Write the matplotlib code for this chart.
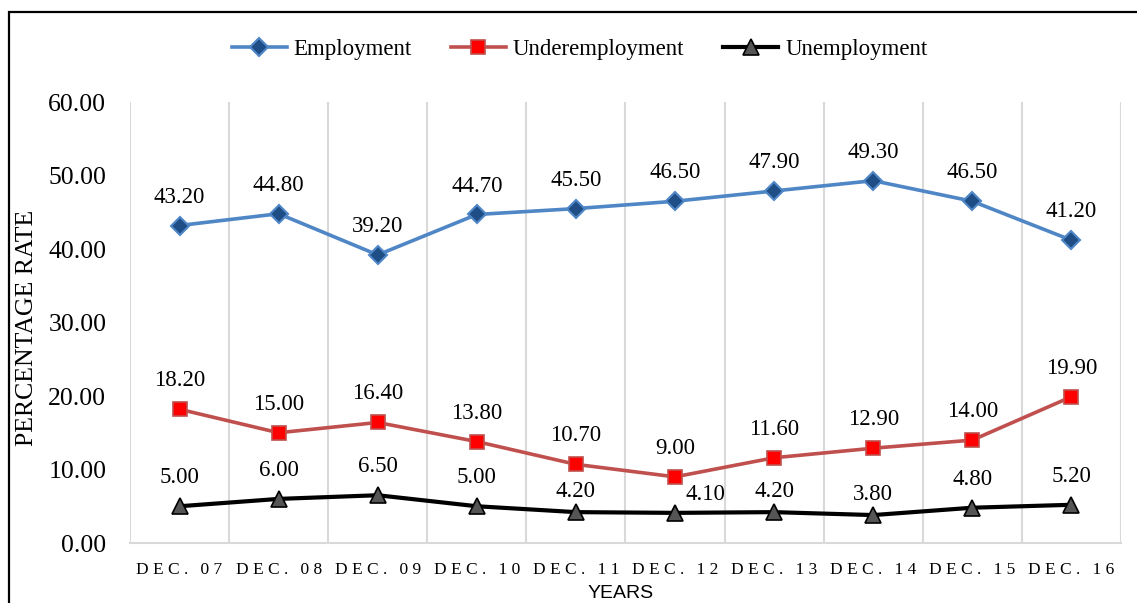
import matplotlib
matplotlib.use("Agg")
import matplotlib.pyplot as plt
from matplotlib.patches import Rectangle

# rates per December survey
years = ["DEC. 07", "DEC. 08", "DEC. 09", "DEC. 10", "DEC. 11",
         "DEC. 12", "DEC. 13", "DEC. 14", "DEC. 15", "DEC. 16"]
employment = [43.2, 44.8, 39.2, 44.7, 45.5, 46.5, 47.9, 49.3, 46.5, 41.2]
underemployment = [18.2, 15.0, 16.4, 13.8, 10.7, 9.0, 11.6, 12.9, 14.0, 19.9]
unemployment = [5.0, 6.0, 6.5, 5.0, 4.2, 4.1, 4.2, 3.8, 4.8, 5.2]
y_ticks = [0, 10, 20, 30, 40, 50, 60]

serif = "Liberation Serif"

fig = plt.figure(figsize=(11.37, 6.03), dpi=100)
ax = fig.add_axes([0.1143, 0.0995, 0.8716, 0.7313])

x = list(range(len(years)))

series = [
    ("Employment", employment, dict(color="#4F86C6", marker="D", ms=9, lw=2.6,
                                    mfc="#1F4E86", mec="#4F86C6", mew=1.5)),
    ("Underemployment", underemployment, dict(color="#C0504D", marker="s", ms=10, lw=2.6,
                                              mfc="#FF0000", mec="#C0504D", mew=1.2)),
    ("Unemployment", unemployment, dict(color="black", marker="^", ms=11, lw=3.0,
                                        mfc="#555555", mec="black", mew=1.2)),
]

# label offsets (points) where the default "above" spot is crowded
label_shift = {("Unemployment", 4): (0, 15), ("Unemployment", 5): (22, 13),
               ("Unemployment", 6): (0, 15), ("Unemployment", 7): (0, 15)}

for name, vals, style in series:
    ax.plot(x, vals, label=name, zorder=3, **style)
    for i, v in enumerate(vals):
        dx, dy = label_shift.get((name, i), (0, 20.5))
        ax.annotate(f"{v:.2f}", (i, v), xytext=(dx, dy), textcoords="offset points",
                    ha="center", va="center", fontsize=16.5, family=serif)

ax.set_xlim(-0.5, len(years) - 0.5)
ax.set_ylim(0, 60)
ax.set_yticks(y_ticks)
ax.set_yticklabels([f"{t:.2f}" for t in y_ticks], family=serif, fontsize=18.5)

ax.set_xticks(x)
ax.set_xticklabels([" ".join(y.replace(" ", "\u2009")) for y in years],
                   family=serif, fontsize=12.5)
ax.set_xticks([i - 0.5 for i in range(len(years) + 1)], minor=True)
ax.tick_params(axis="both", which="both", length=0)
ax.tick_params(axis="y", pad=17)
ax.tick_params(axis="x", pad=14)
ax.grid(True, which="minor", axis="x", color="#D9D9D9", lw=1.5)
ax.grid(False, which="major")

for side in ["top", "right", "left"]:
    ax.spines[side].set_visible(False)
ax.spines["bottom"].set_color("#D9D9D9")
ax.spines["bottom"].set_linewidth(1.5)

fig.text(27 / 1137, 1 - 328 / 603, "PERCENTAGE RATE", rotation=90,
         ha="center", va="center", family=serif, fontsize=18.5)
fig.text(621 / 1137, 1 - 594 / 603, "YEARS", ha="center", va="center",
         family="Liberation Sans", fontsize=14)

fig.legend(loc="center", bbox_to_anchor=(0.5097, 1 - 49 / 603), ncol=3,
           frameon=False, prop={"family": serif, "size": 16.5},
           handlelength=2.4, handletextpad=0.3, columnspacing=1.7)

# outer chart frame (only top and left edges fall inside the image)
fig.add_artist(Rectangle((9 / 1137, -0.1), 1.2, 1.1 - 12 / 603, fill=False,
                         edgecolor="black", lw=1.6, transform=fig.transFigure,
                         clip_on=False))

fig.savefig("out.png", dpi=100)
